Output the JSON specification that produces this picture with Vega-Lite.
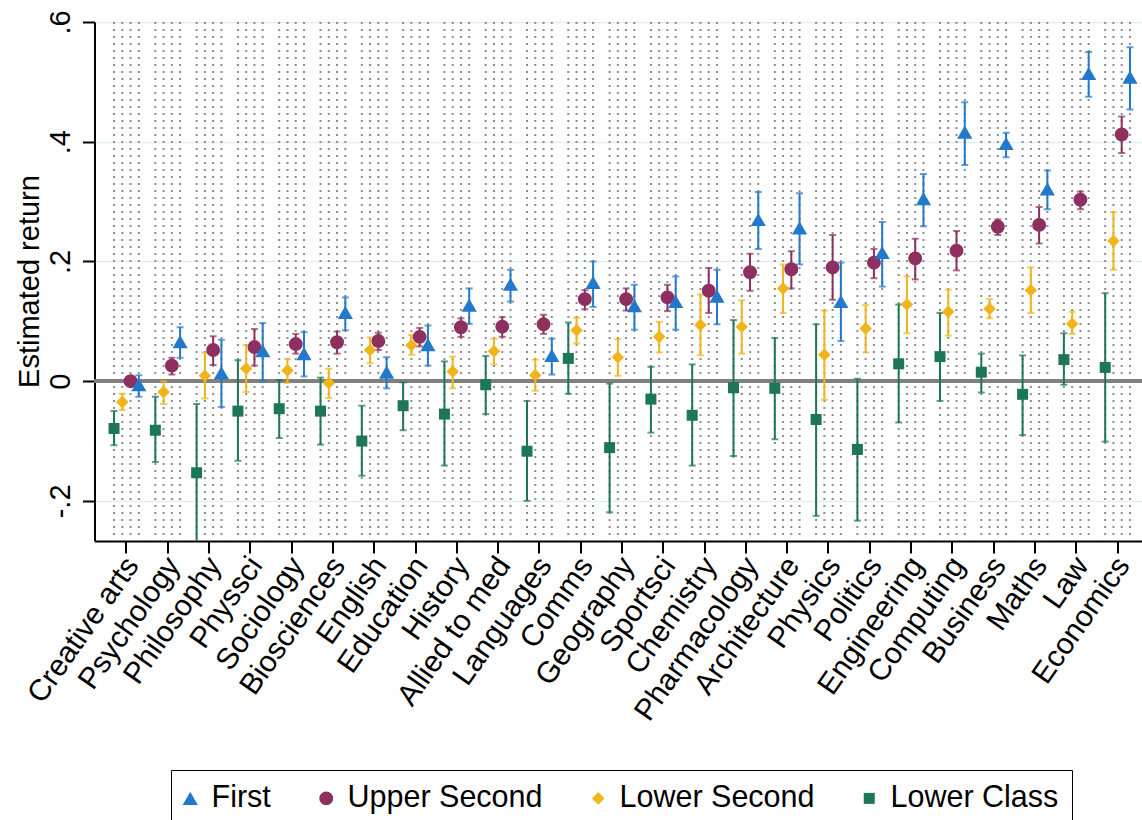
{
  "$schema": "https://vega.github.io/schema/vega-lite/v6.json",
  "autosize": "none",
  "padding": {"left": 94.5, "top": 22, "right": 0, "bottom": 279},
  "width": 1055,
  "height": 519,
  "config": {
    "font": "Liberation Sans",
    "view": {"stroke": null},
    "axis": {"labelFont": "Liberation Sans", "titleFont": "Liberation Sans", "labelColor": "black", "titleColor": "black", "titleFontWeight": "normal"},
    "legend": {"symbolOpacity": 1}
  },
  "data": {"values": [
    {"s":"Creative arts","c":"Lower Class","est":-0.079,"lo":-0.107,"hi":-0.050},
    {"s":"Creative arts","c":"Lower Second","est":-0.035,"lo":-0.048,"hi":-0.021},
    {"s":"Creative arts","c":"Upper Second","est":0.000,"lo":-0.004,"hi":0.004},
    {"s":"Creative arts","c":"First","est":-0.006,"lo":-0.026,"hi":0.010},
    {"s":"Psychology","c":"Lower Class","est":-0.082,"lo":-0.135,"hi":-0.026},
    {"s":"Psychology","c":"Lower Second","est":-0.018,"lo":-0.038,"hi":0.000},
    {"s":"Psychology","c":"Upper Second","est":0.026,"lo":0.011,"hi":0.039},
    {"s":"Psychology","c":"First","est":0.066,"lo":0.039,"hi":0.090},
    {"s":"Philosophy","c":"Lower Class","est":-0.153,"lo":-0.300,"hi":-0.038},
    {"s":"Philosophy","c":"Lower Second","est":0.009,"lo":-0.029,"hi":0.048},
    {"s":"Philosophy","c":"Upper Second","est":0.052,"lo":0.027,"hi":0.075},
    {"s":"Philosophy","c":"First","est":0.014,"lo":-0.043,"hi":0.069},
    {"s":"Physsci","c":"Lower Class","est":-0.050,"lo":-0.133,"hi":0.035},
    {"s":"Physsci","c":"Lower Second","est":0.021,"lo":-0.018,"hi":0.060},
    {"s":"Physsci","c":"Upper Second","est":0.057,"lo":0.026,"hi":0.087},
    {"s":"Physsci","c":"First","est":0.051,"lo":0.000,"hi":0.097},
    {"s":"Sociology","c":"Lower Class","est":-0.046,"lo":-0.095,"hi":0.002},
    {"s":"Sociology","c":"Lower Second","est":0.018,"lo":-0.003,"hi":0.037},
    {"s":"Sociology","c":"Upper Second","est":0.062,"lo":0.046,"hi":0.079},
    {"s":"Sociology","c":"First","est":0.046,"lo":0.008,"hi":0.082},
    {"s":"Biosciences","c":"Lower Class","est":-0.050,"lo":-0.106,"hi":0.006},
    {"s":"Biosciences","c":"Lower Second","est":-0.003,"lo":-0.028,"hi":0.021},
    {"s":"Biosciences","c":"Upper Second","est":0.065,"lo":0.046,"hi":0.083},
    {"s":"Biosciences","c":"First","est":0.115,"lo":0.085,"hi":0.140},
    {"s":"English","c":"Lower Class","est":-0.100,"lo":-0.158,"hi":-0.041},
    {"s":"English","c":"Lower Second","est":0.052,"lo":0.030,"hi":0.073},
    {"s":"English","c":"Upper Second","est":0.067,"lo":0.052,"hi":0.081},
    {"s":"English","c":"First","est":0.015,"lo":-0.012,"hi":0.040},
    {"s":"Education","c":"Lower Class","est":-0.041,"lo":-0.082,"hi":-0.002},
    {"s":"Education","c":"Lower Second","est":0.060,"lo":0.044,"hi":0.077},
    {"s":"Education","c":"Upper Second","est":0.074,"lo":0.058,"hi":0.089},
    {"s":"Education","c":"First","est":0.061,"lo":0.026,"hi":0.093},
    {"s":"History","c":"Lower Class","est":-0.055,"lo":-0.141,"hi":0.033},
    {"s":"History","c":"Lower Second","est":0.016,"lo":-0.012,"hi":0.041},
    {"s":"History","c":"Upper Second","est":0.090,"lo":0.074,"hi":0.105},
    {"s":"History","c":"First","est":0.127,"lo":0.096,"hi":0.155},
    {"s":"Allied to med","c":"Lower Class","est":-0.006,"lo":-0.055,"hi":0.042},
    {"s":"Allied to med","c":"Lower Second","est":0.050,"lo":0.028,"hi":0.071},
    {"s":"Allied to med","c":"Upper Second","est":0.091,"lo":0.074,"hi":0.107},
    {"s":"Allied to med","c":"First","est":0.162,"lo":0.133,"hi":0.186},
    {"s":"Languages","c":"Lower Class","est":-0.117,"lo":-0.200,"hi":-0.033},
    {"s":"Languages","c":"Lower Second","est":0.010,"lo":-0.016,"hi":0.036},
    {"s":"Languages","c":"Upper Second","est":0.095,"lo":0.079,"hi":0.111},
    {"s":"Languages","c":"First","est":0.043,"lo":0.011,"hi":0.071},
    {"s":"Comms","c":"Lower Class","est":0.038,"lo":-0.021,"hi":0.098},
    {"s":"Comms","c":"Lower Second","est":0.085,"lo":0.063,"hi":0.106},
    {"s":"Comms","c":"Upper Second","est":0.137,"lo":0.120,"hi":0.152},
    {"s":"Comms","c":"First","est":0.165,"lo":0.124,"hi":0.200},
    {"s":"Geography","c":"Lower Class","est":-0.111,"lo":-0.219,"hi":-0.004},
    {"s":"Geography","c":"Lower Second","est":0.040,"lo":0.009,"hi":0.070},
    {"s":"Geography","c":"Upper Second","est":0.137,"lo":0.118,"hi":0.155},
    {"s":"Geography","c":"First","est":0.126,"lo":0.086,"hi":0.161},
    {"s":"Sportsci","c":"Lower Class","est":-0.030,"lo":-0.086,"hi":0.024},
    {"s":"Sportsci","c":"Lower Second","est":0.074,"lo":0.048,"hi":0.099},
    {"s":"Sportsci","c":"Upper Second","est":0.140,"lo":0.117,"hi":0.161},
    {"s":"Sportsci","c":"First","est":0.133,"lo":0.086,"hi":0.175},
    {"s":"Chemistry","c":"Lower Class","est":-0.057,"lo":-0.141,"hi":0.028},
    {"s":"Chemistry","c":"Lower Second","est":0.094,"lo":0.043,"hi":0.145},
    {"s":"Chemistry","c":"Upper Second","est":0.151,"lo":0.114,"hi":0.189},
    {"s":"Chemistry","c":"First","est":0.142,"lo":0.095,"hi":0.186},
    {"s":"Pharmacology","c":"Lower Class","est":-0.011,"lo":-0.125,"hi":0.102},
    {"s":"Pharmacology","c":"Lower Second","est":0.091,"lo":0.046,"hi":0.135},
    {"s":"Pharmacology","c":"Upper Second","est":0.182,"lo":0.151,"hi":0.213},
    {"s":"Pharmacology","c":"First","est":0.270,"lo":0.221,"hi":0.316},
    {"s":"Architecture","c":"Lower Class","est":-0.012,"lo":-0.097,"hi":0.072},
    {"s":"Architecture","c":"Lower Second","est":0.155,"lo":0.114,"hi":0.195},
    {"s":"Architecture","c":"Upper Second","est":0.187,"lo":0.155,"hi":0.217},
    {"s":"Architecture","c":"First","est":0.256,"lo":0.195,"hi":0.314},
    {"s":"Physics","c":"Lower Class","est":-0.064,"lo":-0.225,"hi":0.095},
    {"s":"Physics","c":"Lower Second","est":0.044,"lo":-0.031,"hi":0.118},
    {"s":"Physics","c":"Upper Second","est":0.190,"lo":0.136,"hi":0.244},
    {"s":"Physics","c":"First","est":0.133,"lo":0.067,"hi":0.198},
    {"s":"Politics","c":"Lower Class","est":-0.114,"lo":-0.233,"hi":0.004},
    {"s":"Politics","c":"Lower Second","est":0.088,"lo":0.048,"hi":0.127},
    {"s":"Politics","c":"Upper Second","est":0.198,"lo":0.172,"hi":0.221},
    {"s":"Politics","c":"First","est":0.215,"lo":0.158,"hi":0.266},
    {"s":"Engineering","c":"Lower Class","est":0.029,"lo":-0.069,"hi":0.128},
    {"s":"Engineering","c":"Lower Second","est":0.128,"lo":0.080,"hi":0.175},
    {"s":"Engineering","c":"Upper Second","est":0.205,"lo":0.170,"hi":0.238},
    {"s":"Engineering","c":"First","est":0.305,"lo":0.259,"hi":0.346},
    {"s":"Computing","c":"Lower Class","est":0.041,"lo":-0.033,"hi":0.114},
    {"s":"Computing","c":"Lower Second","est":0.116,"lo":0.076,"hi":0.153},
    {"s":"Computing","c":"Upper Second","est":0.218,"lo":0.185,"hi":0.251},
    {"s":"Computing","c":"First","est":0.416,"lo":0.361,"hi":0.466},
    {"s":"Business","c":"Lower Class","est":0.015,"lo":-0.019,"hi":0.046},
    {"s":"Business","c":"Lower Second","est":0.121,"lo":0.105,"hi":0.137},
    {"s":"Business","c":"Upper Second","est":0.258,"lo":0.244,"hi":0.270},
    {"s":"Business","c":"First","est":0.397,"lo":0.374,"hi":0.415},
    {"s":"Maths","c":"Lower Class","est":-0.022,"lo":-0.090,"hi":0.043},
    {"s":"Maths","c":"Lower Second","est":0.152,"lo":0.114,"hi":0.190},
    {"s":"Maths","c":"Upper Second","est":0.261,"lo":0.230,"hi":0.291},
    {"s":"Maths","c":"First","est":0.321,"lo":0.287,"hi":0.352},
    {"s":"Law","c":"Lower Class","est":0.036,"lo":-0.006,"hi":0.080},
    {"s":"Law","c":"Lower Second","est":0.096,"lo":0.079,"hi":0.116},
    {"s":"Law","c":"Upper Second","est":0.303,"lo":0.287,"hi":0.317},
    {"s":"Law","c":"First","est":0.514,"lo":0.475,"hi":0.550},
    {"s":"Economics","c":"Lower Class","est":0.023,"lo":-0.101,"hi":0.147},
    {"s":"Economics","c":"Lower Second","est":0.234,"lo":0.186,"hi":0.282},
    {"s":"Economics","c":"Upper Second","est":0.412,"lo":0.381,"hi":0.442},
    {"s":"Economics","c":"First","est":0.508,"lo":0.454,"hi":0.558}
  ]},
  "encoding": {
    "x": {
      "field": "s", "type": "nominal",
      "sort": ["Creative arts","Psychology","Philosophy","Physsci","Sociology","Biosciences","English","Education","History","Allied to med","Languages","Comms","Geography","Sportsci","Chemistry","Pharmacology","Architecture","Physics","Politics","Engineering","Computing","Business","Maths","Law","Economics"],
      "scale": {"paddingInner": 0.2, "paddingOuter": 0.373},
      "axis": {
        "title": null, "labelAngle": -55, "labelAlign": "right", "labelBaseline": "middle",
        "labelFontSize": 30, "labelPadding": 7, "labelOffset": 6, "tickSize": 12, "tickWidth": 2, "tickColor": "black",
        "domainColor": "black", "domainWidth": 2, "grid": false, "labelOverlap": false, "labelLimit": 400
      }
    },
    "xOffset": {
      "field": "c", "type": "nominal",
      "scale": {"domain": ["Lower Class","Lower Second","Upper Second","First"], "paddingInner": 0, "paddingOuter": 0}
    }
  },
  "layer": [
    {
      "mark": {"type": "rule", "color": "#8c8c8c", "strokeWidth": 2, "strokeDash": [2, 5]},
      "encoding": {}
    },
    {
      "mark": {"type": "rule", "color": "#808080", "strokeWidth": 2.6},
      "encoding": {"y": {"datum": 0, "type": "quantitative"}, "x": null, "xOffset": null}
    },
    {
      "mark": {"type": "rule", "strokeWidth": 2, "clip": true},
      "encoding": {
        "y": {
          "field": "lo", "type": "quantitative",
          "scale": {"domain": [-0.267, 0.6], "nice": false, "zero": false},
          "axis": {
            "title": "Estimated return", "values": [-0.2, 0, 0.2, 0.4, 0.6],
            "labelExpr": "datum.value == 0 ? '0' : replace(replace(format(datum.value, '.1f'), '0.', '.'), '\u2212', '-')",
            "labelAngle": 270, "labelAlign": "center", "labelBaseline": "bottom", "labelFontSize": 29, "labelPadding": 7,
            "tickSize": 12, "tickWidth": 2, "tickColor": "black", "domainColor": "black", "domainWidth": 2,
            "grid": true, "gridColor": "#e4edef", "gridWidth": 1.5,
            "titleFontSize": 29, "titleAngle": 270, "titleAlign": "center", "titleBaseline": "middle", "titleX": -65, "titleY": 259
          }
        },
        "y2": {"field": "hi"},
        "color": {"field": "c", "type": "nominal",
          "scale": {"domain": ["First","Upper Second","Lower Second","Lower Class"], "range": ["#2279cb","#8d2f5f","#f1b51c","#1e7658"]}}
      }
    },
    {
      "mark": {"type": "tick", "thickness": 2, "size": 7, "clip": true},
      "encoding": {
        "y": {"field": "lo", "type": "quantitative"},
        "color": {"field": "c", "type": "nominal"}
      }
    },
    {
      "mark": {"type": "tick", "thickness": 2, "size": 7, "clip": true},
      "encoding": {
        "y": {"field": "hi", "type": "quantitative"},
        "color": {"field": "c", "type": "nominal"}
      }
    },
    {
      "mark": {"type": "point", "filled": true, "opacity": 1},
      "encoding": {
        "y": {"field": "est", "type": "quantitative"},
        "color": {"field": "c", "type": "nominal",
          "legend": {
            "title": null, "orient": "none", "legendX": 76.5, "legendY": 748, "direction": "horizontal", "columns": 4,
            "strokeColor": "black", "padding": 13, "labelFontSize": 30.5, "labelFont": "Liberation Sans", "labelColor": "black", "labelLimit": 500,
            "symbolSize": 100, "symbolOpacity": 1, "symbolOffset": -9, "labelOffset": 6, "columnPadding": 48, "symbolStrokeWidth": 0
          }},
        "shape": {"field": "c", "type": "nominal",
          "scale": {"domain": ["First","Upper Second","Lower Second","Lower Class"], "range": ["triangle-up","circle","diamond","square"]},
          "legend": {
            "title": null, "orient": "none", "legendX": 76.5, "legendY": 748, "direction": "horizontal", "columns": 4,
            "strokeColor": "black", "padding": 13, "labelFontSize": 30.5, "labelFont": "Liberation Sans", "labelColor": "black", "labelLimit": 500,
            "symbolSize": 100, "symbolOpacity": 1, "symbolOffset": -9, "labelOffset": 6, "columnPadding": 48, "symbolStrokeWidth": 0
          }},
        "size": {"field": "c", "type": "ordinal", "legend": null,
          "scale": {"domain": ["First","Upper Second","Lower Second","Lower Class"], "range": [230, 121, 225, 144]}}
      }
    }
  ]
}
